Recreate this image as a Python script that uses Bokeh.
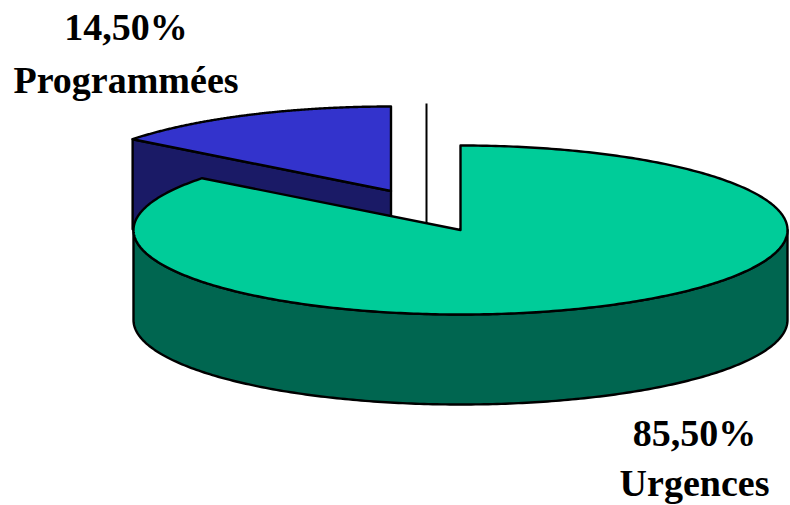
import numpy as np
from bokeh.core.properties import value
from bokeh.embed import file_html
from bokeh.models import Range1d
from bokeh.plotting import figure
from bokeh.resources import INLINE

categories = ["Programmées", "Urgences"]
shares = [14.50, 85.50]
share_labels = ["14,50%", "85,50%"]

top_colors = ["#3333CC", "#00CC99"]
side_colors = ["#1A1A66", "#006650"]

WIDTH, HEIGHT = 790, 505
RX, RY, DEPTH = 327, 84.5, 90
CENTERS = {"Urgences": (460, 229.5), "Programmées": (390.5, 190.5)}
FONT = value("Liberation Serif")
EDGE = 2.4

p = figure(width=WIDTH, height=HEIGHT, output_backend="svg", toolbar_location=None,
           x_range=Range1d(0, WIDTH), y_range=Range1d(HEIGHT, 0),
           min_border=0, background_fill_color="white", outline_line_color=None)
p.axis.visible = False
p.grid.visible = False


def rim(center, start, stop, n=240):
    """Points of the disc rim; angles run clockwise from twelve o'clock."""
    a = np.linspace(start, stop, n)
    return center[0] + RX * np.sin(a), center[1] - RY * np.cos(a)


def outline(x, y, fill):
    p.patch(x, y, fill_color=fill, line_color="black", line_width=EDGE, line_join="round")


split = 2 * np.pi * shares[1] / sum(shares)
c_blue = CENTERS["Programmées"]
c_green = CENTERS["Urgences"]

# Detached slice: cut wall first, then its top face
bx, by = rim(c_blue, split, 2 * np.pi)
outline([bx[0], c_blue[0], c_blue[0], bx[0]],
        [by[0], c_blue[1], c_blue[1] + DEPTH, by[0] + DEPTH], side_colors[0])
outline(np.r_[c_blue[0], bx], np.r_[c_blue[1], by], top_colors[0])

# Thin vertical rule standing behind the main slice
p.segment([426], [103], [426], [235], line_color="black", line_width=2)

# Main slice: front wall, then its top face
wx, wy = rim(c_green, np.pi / 2, 3 * np.pi / 2)
outline(np.r_[wx, wx[::-1]], np.r_[wy, wy[::-1] + DEPTH], side_colors[1])
gx, gy = rim(c_green, 0, split, 400)
outline(np.r_[c_green[0], gx], np.r_[c_green[1], gy], top_colors[1])

# Labels
label_x = [125.5, 694]
value_y = [26, 432]
name_y = [79, 482]
p.text(label_x, value_y, text=share_labels, text_font=FONT, text_font_style="bold",
       text_font_size="38px", text_align="center", text_baseline="middle", text_color="black")
p.text(label_x, name_y, text=categories, text_font=FONT, text_font_style="bold",
       text_font_size="38px", text_align="center", text_baseline="middle", text_color="black")

open("out.html", "w").write(file_html(p, INLINE))
